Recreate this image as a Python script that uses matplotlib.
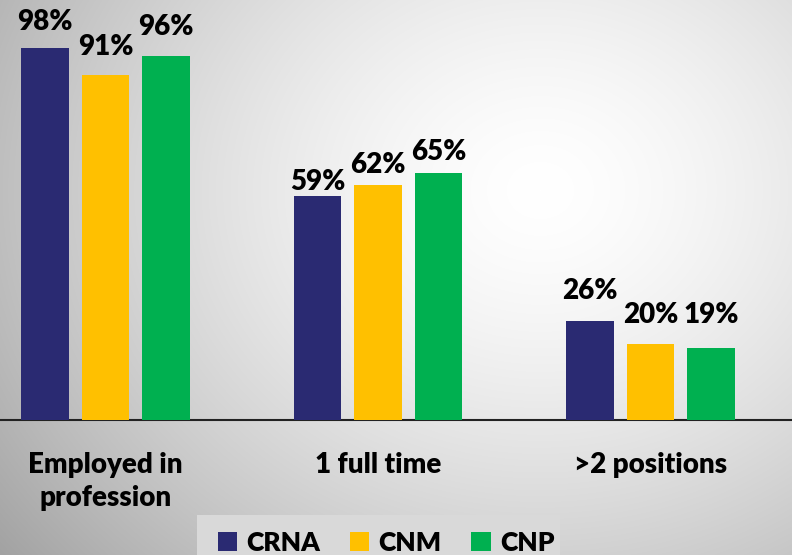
import numpy as np
import matplotlib
matplotlib.use("Agg")
import matplotlib.pyplot as plt
import matplotlib.transforms as mtransforms
from matplotlib.patches import Rectangle

categories = ["Employed in\nprofession", "1 full time", ">2 positions"]
series = ["CRNA", "CNM", "CNP"]
crna = [98, 59, 26]
cnm = [91, 62, 20]
cnp = [96, 65, 19]
colors = ["#2a2a72", "#ffc000", "#00b050"]

# gap (pixels) between bar top and label baseline, per series per category (layout only)
label_gap_px = [[18, 6, 22], [20, 12, 21], [21, 13, 25]]

WEIGHT = 'heavy'
plt.rcParams['font.family'] = ['Lato', 'DejaVu Sans']
plt.rcParams['font.weight'] = WEIGHT

W, H = 792, 555
fig = plt.figure(figsize=(W / 100, H / 100), dpi=100)

# radial gradient background
bg = fig.add_axes([0, 0, 1, 1], zorder=-10)
yy, xx = np.mgrid[0:H, 0:W]
cx, cy = 540, 190
d = np.sqrt(((xx - cx) / 1.0) ** 2 + ((yy - cy) / 0.85) ** 2)
v = 255 - 68 * np.clip(d / 560, 0, 1.3) ** 1.5
v = np.clip(v, 0, 255) / 255.0
img = np.dstack([v, v, v])
bg.imshow(img, aspect='auto', extent=[0, W, H, 0])
bg.set_axis_off()

base_px = 420
top_px = 420 - 379.6
ax = fig.add_axes([0, 1 - base_px / H, 1, (base_px - top_px) / H])
ax.patch.set_alpha(0)

x = np.arange(len(categories))
width = 0.176
offset = 0.222
values = [crna, cnm, cnp]
bars = []
for i, (name, vals, c) in enumerate(zip(series, values, colors)):
    b = ax.bar(x + (i - 1) * offset, vals, width, color=c, label=name, zorder=3)
    bars.append(b)
    for k, (xi, val) in enumerate(zip(x + (i - 1) * offset, vals)):
        ax.annotate(f"{val}%", (xi, val), xytext=(0, label_gap_px[i][k] * 0.72),
                    textcoords='offset points', ha='center', va='baseline',
                    fontsize=20, fontweight=WEIGHT, color='black')

ax.set_ylim(0, 100)
ax.set_xlim(-105.5 / 272.5, 2 + (792 - 650.5) / 272.5)
for s in ['top', 'right', 'left']:
    ax.spines[s].set_visible(False)
ax.spines['bottom'].set_color('#222222')
ax.spines['bottom'].set_linewidth(1.5)
ax.set_yticks([])
ax.set_xticks([])

# category labels
trans = mtransforms.blended_transform_factory(ax.transData, fig.transFigure)
for xi, cat in zip(x, categories):
    for j, ln in enumerate(cat.split("\n")):
        ypx = 473 + j * 33
        ax.text(xi, 1 - ypx / H, ln, transform=trans,
                ha='center', va='baseline', fontsize=20, fontweight=WEIGHT)

# legend background box
fig.patches.append(Rectangle((197 / W, 0), (560 - 197) / W, 40 / H, transform=fig.transFigure,
                             facecolor='#d9d9d9', edgecolor='none', zorder=-5))
leg = fig.legend(handles=bars, labels=series, loc='center', bbox_to_anchor=(386 / W, 1 - 543 / H),
                 ncol=3, frameon=False, handlelength=0.75, handleheight=0.75,
                 handletextpad=0.35, columnspacing=1.1, prop={'weight': WEIGHT, 'size': 19})

fig.savefig("out.png", dpi=100)
